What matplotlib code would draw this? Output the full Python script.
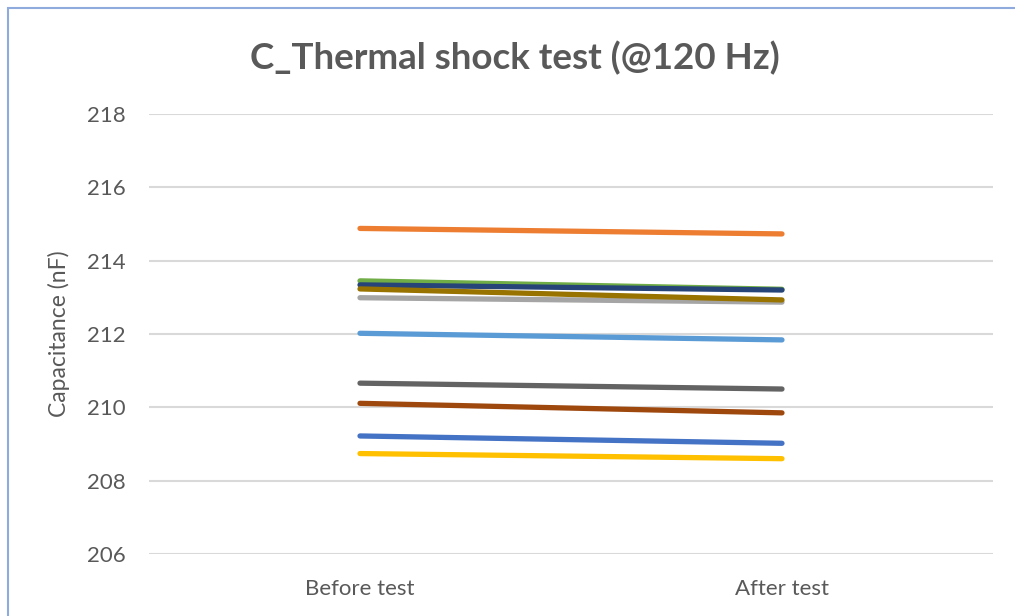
import numpy as np
import matplotlib
matplotlib.use("Agg")
import matplotlib.pyplot as plt
from matplotlib.patches import Rectangle

# data
categories = ["Before test", "After test"]
s1 = [209.22, 209.02]
s2 = [214.88, 214.73]
s3 = [212.99, 212.87]
s4 = [208.74, 208.60]
s5 = [212.02, 211.84]
s6 = [213.45, 213.22]
s7 = [213.34, 213.20]
s8 = [210.11, 209.85]
s9 = [210.66, 210.50]
s10 = [213.23, 212.93]
series = [s1, s2, s3, s4, s5, s6, s7, s8, s9, s10]
colors = ["#4472C4", "#ED7D31", "#A5A5A5", "#FFC000", "#5B9BD5",
          "#70AD47", "#264478", "#9E480E", "#636363", "#997300"]
yticks = [206, 208, 210, 212, 214, 216, 218]

plt.rcParams['font.family'] = ['Lato', 'DejaVu Sans']
txt = "#595959"

fig = plt.figure(figsize=(10.15, 6.16), dpi=100)
ax = fig.add_axes([0.1468, 0.1006, 0.9783 - 0.1468, 0.8149 - 0.1006])

x = np.arange(len(categories))
for vals, c in zip(series, colors):
    ax.plot(x, vals, color=c, lw=3.8, solid_capstyle='round')

ax.set_xlim(-0.5, 1.5)
ax.set_ylim(206, 218)
ax.set_yticks(yticks)
ax.set_xticks(x)
ax.set_xticklabels(categories)
ax.tick_params(length=0, labelsize=16, colors=txt)
ax.tick_params(axis='x', pad=18)
ax.tick_params(axis='y', pad=17)
ax.grid(axis='y', color="#D9D9D9", lw=1.5)
ax.set_axisbelow(True)
for sp in ax.spines.values():
    sp.set_visible(False)
ax.set_ylabel("Capacitance (nF)", fontsize=16.5, color=txt, labelpad=12)

fig.text(0.507, 0.905, "C_Thermal shock test (@120 Hz)", ha='center', va='center',
         fontsize=26.5, fontweight='bold', color=txt)

# chart frame
fig.patches.append(Rectangle((8 / 1015, -0.1), 1.2, 1 - 8 / 616 + 0.1,
                             transform=fig.transFigure, fill=False,
                             edgecolor="#8FAADC", lw=1.5))

fig.savefig("out.png", dpi=100)
